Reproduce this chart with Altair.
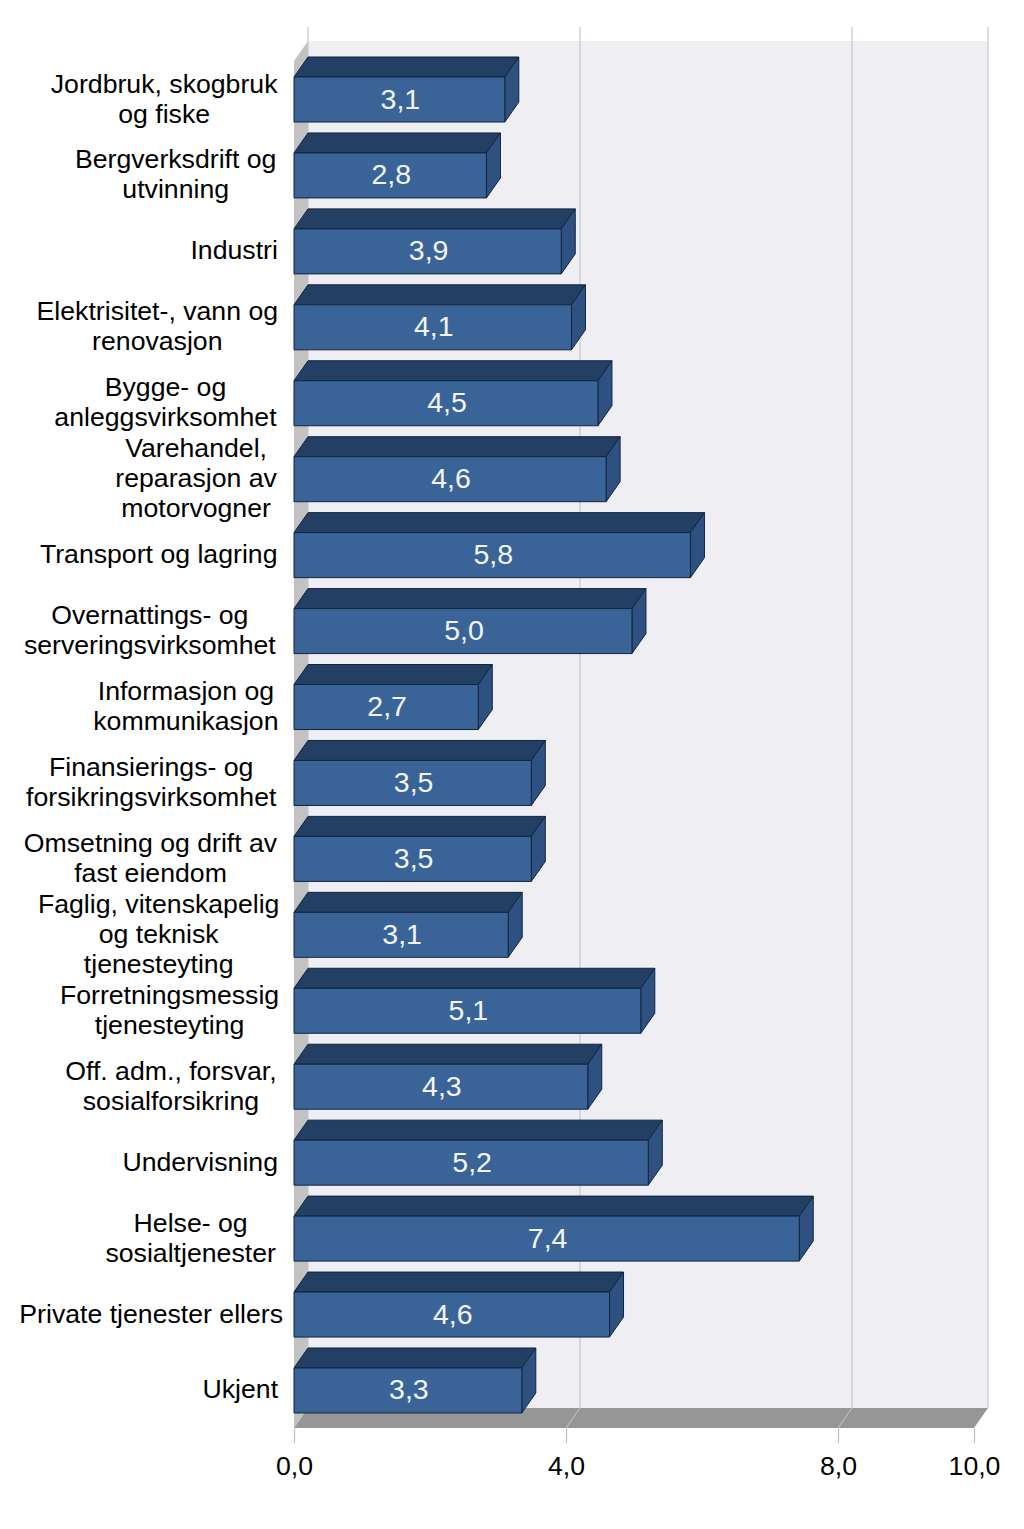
import altair as alt
import pandas as pd

# ---- chart values -------------------------------------------------------
categories = [
    "Jordbruk, skogbruk\nog fiske", "Bergverksdrift og\nutvinning", "Industri",
    "Elektrisitet-, vann og\nrenovasjon", "Bygge- og\nanleggsvirksomhet",
    "Varehandel,\nreparasjon av\nmotorvogner", "Transport og lagring",
    "Overnattings- og\nserveringsvirksomhet", "Informasjon og\nkommunikasjon",
    "Finansierings- og\nforsikringsvirksomhet", "Omsetning og drift av\nfast eiendom",
    "Faglig, vitenskapelig\nog teknisk\ntjenesteyting", "Forretningsmessig\ntjenesteyting",
    "Off. adm., forsvar,\nsosialforsikring", "Undervisning", "Helse- og\nsosialtjenester",
    "Private tjenester ellers", "Ukjent",
]
bar_lengths = [3.10, 2.83, 3.93, 4.08, 4.47, 4.59, 5.83, 4.97, 2.71,
               3.49, 3.49, 3.15, 5.10, 4.32, 5.21, 7.43, 4.64, 3.35]
value_labels = ["3,1", "2,8", "3,9", "4,1", "4,5", "4,6", "5,8", "5,0", "2,7",
                "3,5", "3,5", "3,1", "5,1", "4,3", "5,2", "7,4", "4,6", "3,3"]
tick_values = [0, 4, 8, 10]
wall_grid = [0, 4, 8, 10]
# horizontal centre of each category label's text block, in axis units
label_centres = [-1.91, -1.74, -0.88, -2.01, -1.89, -1.44, -1.99, -2.12, -1.59,
                 -2.10, -2.11, -1.99, -1.83, -1.81, -1.38, -1.52, -2.10, -0.79]

# ---- layout -------------------------------------------------------------
PX_PER_UNIT = 68.0
X0_PX = 294.0
PITCH = 75.94
Y0_PX = 99.5
W, H = 1008, 1420           # plot spans page px 8..1016 and 8..1428
DX = 14 / PX_PER_UNIT       # 3-D depth in axis units
DY = 20 / PITCH             # 3-D depth in category units
HALF = 22.5 / PITCH         # half bar thickness
LINE = 30                   # category label line height

FONT = "Liberation Sans"
FS = 26.67


def ycat(px):
    return (px - Y0_PX) / PITCH


xs = alt.Scale(domain=[(8 - X0_PX) / PX_PER_UNIT, (8 + W - X0_PX) / PX_PER_UNIT],
               nice=False, zero=False)
ys = alt.Scale(domain=[ycat(8), ycat(8 + H)], nice=False, zero=False, reverse=True)

FRONT_Y = ycat(1428)
BACK_Y = FRONT_Y - DY
WALL_TOP = ycat(41)
GRID_TOP = ycat(27)
XAX = 10.0

X = lambda f="x": alt.X(f"{f}:Q", scale=xs, axis=None)
Y = lambda f="y": alt.Y(f"{f}:Q", scale=ys, axis=None)

# ---- frames ---------------------------------------------------------------
bars = pd.DataFrame({
    "i": range(len(categories)), "len": bar_lengths, "val": value_labels,
    "cat": categories, "cx": label_centres,
})
bars["top"] = bars.i - HALF
bars["bot"] = bars.i + HALF
bars["zero"] = 0.0
bars["mid"] = bars.len / 2 + 1 / PX_PER_UNIT
# baseline "middle" applies to the first line, so lift multi-line labels
bars["first_line"] = [i - (c.count("\n")) * LINE / 2 / PITCH for i, c in zip(bars.i, bars.cat)]

top_rows, side_rows = [], []
for r in bars.itertuples():
    top_rows += [
        dict(i=r.i, y=r.top, x=0.0, x2=r.len),
        dict(i=r.i, y=r.top - DY, x=DX, x2=r.len + DX),
    ]
    side_rows += [
        dict(i=r.i, x=r.len, y=r.top, y2=r.bot),
        dict(i=r.i, x=r.len + DX, y=r.top - DY, y2=r.bot - DY),
    ]
top_df = pd.DataFrame(top_rows)
side_df = pd.DataFrame(side_rows)

wall = alt.Chart(pd.DataFrame([dict(x=DX, x2=XAX + DX - 0.01, y=WALL_TOP, y2=BACK_Y)])).mark_rect(
    color="#EEEEF3").encode(x=X(), x2="x2:Q", y=Y(), y2="y2:Q")

side_wall = alt.Chart(pd.DataFrame([
    dict(x=0.0, y=WALL_TOP + DY, y2=FRONT_Y),
    dict(x=DX, y=WALL_TOP, y2=BACK_Y),
])).mark_area(color="#C2C2C2", orient="vertical").encode(x=X(), y=Y(), y2="y2:Q")

grid = alt.Chart(pd.DataFrame({"x": [v + DX for v in wall_grid], "y": GRID_TOP, "y2": BACK_Y})).mark_rule(
    color="#C6C6CF", strokeWidth=1.2).encode(x=X(), y=Y(), y2="y2:Q")

floor = alt.Chart(pd.DataFrame([
    dict(y=BACK_Y, x=DX, x2=XAX + DX),
    dict(y=FRONT_Y, x=0.0, x2=XAX),
])).mark_area(color="#969696", orient="horizontal").encode(y=Y(), x=X(), x2="x2:Q")

diag_rows = []
for v in wall_grid[1:3]:
    diag_rows += [dict(g=v, x=v + DX, y=BACK_Y), dict(g=v, x=float(v), y=FRONT_Y)]
diag = alt.Chart(pd.DataFrame(diag_rows)).mark_line(color="#C6C6CF", strokeWidth=1).encode(
    x=X(), y=Y(), detail="g:N", order="y:Q")

axis_layer = alt.Chart(pd.DataFrame({"x": tick_values, "y": FRONT_Y})).mark_point(opacity=0).encode(
    x=alt.X("x:Q", scale=xs, axis=alt.Axis(
        values=tick_values, title=None, domain=False, grid=False, tickSize=15, tickWidth=1.2,
        tickColor="#BDBDC4", labelFontSize=FS, labelFont=FONT, labelColor="#000000",
        labelPadding=10, labelFlush=False, labelOverlap=False,
        labelExpr="replace(format(datum.value, '.1f'), '.', ',')")),
    y=Y(),
)

STROKE = "#10253F"
top_face = alt.Chart(top_df).mark_area(
    color="#243F64", stroke=STROKE, strokeWidth=1, orient="horizontal").encode(
    y=Y(), x=X(), x2="x2:Q", detail="i:N")
side_face = alt.Chart(side_df).mark_area(
    color="#2E5182", stroke=STROKE, strokeWidth=1, orient="vertical").encode(
    x=X(), y=Y(), y2="y2:Q", detail="i:N")
front_face = alt.Chart(bars).mark_rect(
    color="#3A6497", stroke=STROKE, strokeWidth=1).encode(
    x=X("zero"), x2="len:Q", y=Y("top"), y2="bot:Q")

value_text = alt.Chart(bars).mark_text(
    color="#F2F5FA", font=FONT, fontSize=28.5, align="center", baseline="middle").encode(
    x=X("mid"), y=Y("i"), text="val:N")

cat_text = alt.Chart(bars).mark_text(
    color="#000000", font=FONT, fontSize=FS, align="center", baseline="middle",
    lineBreak="\n", lineHeight=LINE).encode(
    x=X("cx"), y=Y("first_line"), text="cat:N")

chart = alt.layer(
    wall, side_wall, grid, floor, diag, axis_layer,
    top_face, side_face, front_face, value_text, cat_text,
).resolve_axis(x="independent").properties(
    width=W, height=H, background="#FFFFFF",
    padding={"left": 0, "top": 0, "right": 0, "bottom": 85},
    autosize=alt.AutoSizeParams(type="none"),
).configure_view(stroke=None)

chart.save("out.html", embed_options={"renderer": "svg", "actions": False})
